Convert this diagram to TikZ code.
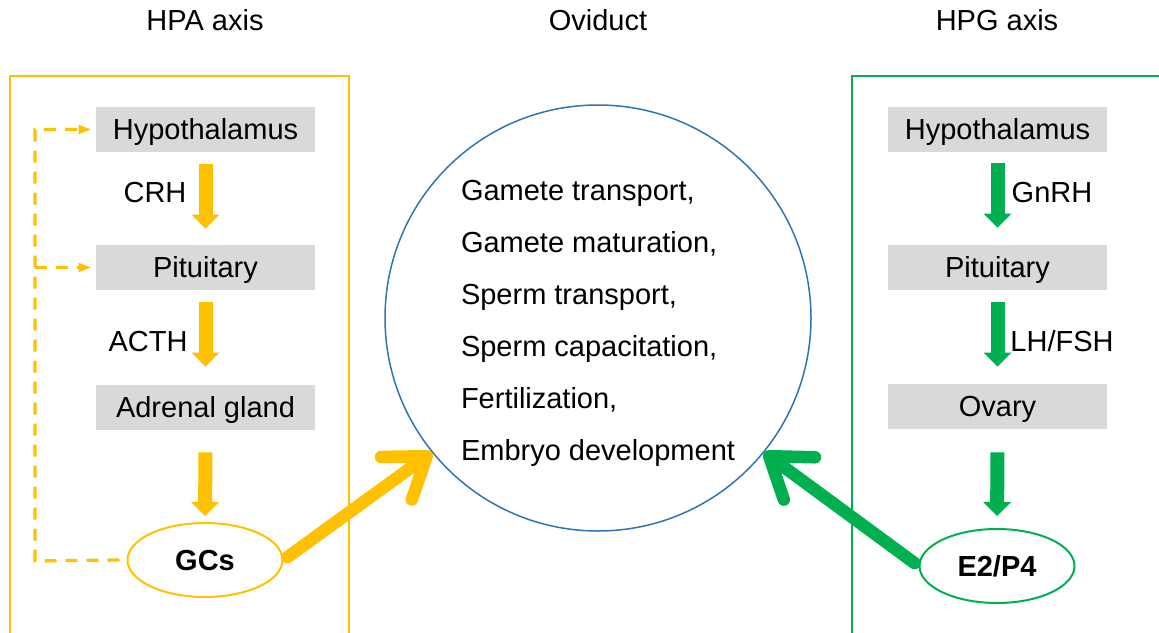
\documentclass[tikz,border=0pt]{standalone}
\usepackage{fontspec}
\setmainfont{Liberation Sans}
\usetikzlibrary{arrows.meta,shapes.geometric}
\definecolor{jaune}{HTML}{FFC000}
\definecolor{vert}{HTML}{00B050}
\definecolor{bleu}{HTML}{2E75B6}
\definecolor{gris}{HTML}{D9D9D9}

\begin{document}
\begin{tikzpicture}[x=0.2mm, y=-0.2mm]
\tikzset{texte/.style={font=\fontsize{16.5}{20}\selectfont, inner sep=0pt, text height=11.8pt, text depth=0pt}}
\tikzset{boite/.style={texte, fill=gris, minimum width=43.8mm, minimum height=9mm}}
\tikzset{ovale/.style={draw, ellipse, line width=0.4mm, fill=white, inner sep=0pt, text height=11.8pt, text depth=0pt, font=\fontsize{16.5}{20}\selectfont\bfseries, minimum width=31mm, minimum height=14.8mm}}
\tikzset{bloc/.style={line width=2.8mm, -{Triangle[length=2.8mm, width=5.6mm, line width=0pt]}}}
\tikzset{grosse/.style={line width=2.5mm, line cap=round, -{Straight Barb[round, length=7.5mm, width=10.5mm]}}}
\tikzset{retour/.style={jaune, line width=0.65mm, dash pattern=on 2.4mm off 1.8mm, -{Triangle[length=2.4mm, width=1.9mm, line width=0pt]}}}
\useasboundingbox (0,0) rectangle (1159,633);
\clip (0,0) rectangle (1159,633);
\draw[jaune, line width=0.3mm] (10,76) rectangle (349,700);
\draw[vert, line width=0.3mm] (852,76) rectangle (1200,700);
\node[texte] (T1) at (205,20) {HPA axis};
\node[texte] (T2) at (598,20) {Oviduct};
\node[texte] (T3) at (997,20) {HPG axis};
\node[boite] (LHyp) at (205.5,129.5) {Hypothalamus};
\node[boite] (LPit) at (205.5,267.5) {Pituitary};
\node[boite] (LAdr) at (205.5,407.5) {Adrenal gland};
\node[ovale, draw=jaune] (GC) at (205,560) {GCs};
\node[boite] (RHyp) at (997.5,129.5) {Hypothalamus};
\node[boite] (RPit) at (997.5,267.5) {Pituitary};
\node[boite] (ROva) at (997.5,406.5) {Ovary};
\node[ovale, draw=vert] (EP) at (997,566) {E2/P4};
\node[draw=bleu, line width=0.3mm, circle, minimum size=85.2mm, inner sep=0pt] (Ovi) at (598,318) {};
\node[font=\fontsize{16.5}{29.6}\selectfont, inner sep=0pt, align=left] (Fun) at (598,323) {Gamete transport,\\Gamete maturation,\\Sperm transport,\\Sperm capacitation,\\Fertilization,\\Embryo development};
\node[texte] (L1) at (155,192) {CRH};
\node[texte] (L2) at (148,341) {ACTH};
\node[texte] (L3) at (1052,192) {GnRH};
\node[texte] (L4) at (1062,341) {LH/FSH};
\draw[bloc, jaune, shorten <=2.4mm, shorten >=3.2mm] (LHyp) -- (LPit);
\draw[bloc, jaune, shorten <=2.4mm, shorten >=3.6mm] (LPit) -- (LAdr);
\draw[bloc, jaune, shorten <=4.4mm, shorten >=1.2mm] (LAdr) -- (GC);
\draw[bloc, vert, shorten <=2.2mm, shorten >=3.4mm] (RHyp) -- (RPit);
\draw[bloc, vert, shorten <=2.4mm, shorten >=3.4mm] (RPit) -- (ROva);
\draw[bloc, vert, shorten <=4.6mm, shorten >=2.4mm] (ROva) -- (EP);
\coordinate (FB) at (35,561);
\draw[retour] ([xshift=-1.4mm]GC.west) -- (FB) |- ([xshift=-1mm]LHyp.west);
\draw[retour] (FB |- LPit.west) -- ([xshift=-1mm]LPit.west);
\draw[grosse, jaune, shorten <=1mm] (GC.east) -- (Ovi.219);
\draw[grosse, vert, shorten <=1mm] (EP.west) -- (Ovi.321);
\end{tikzpicture}
\end{document}
